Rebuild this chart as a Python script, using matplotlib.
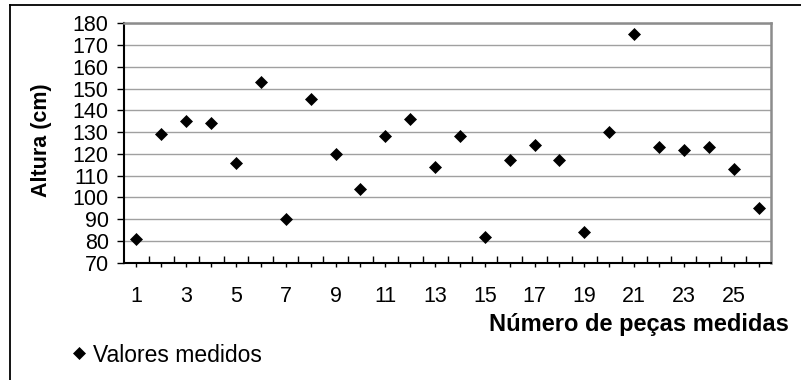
import numpy as np
import matplotlib
matplotlib.use("Agg")
import matplotlib.pyplot as plt
from matplotlib.lines import Line2D
from matplotlib.ticker import FixedLocator

# data
pecas = list(range(1, 27))
alturas = [81, 129, 135, 134, 116, 153, 90, 145, 120, 104, 128, 136, 114,
           128, 82, 117, 124, 117, 84, 130, 175, 123, 122, 123, 113, 95]
yticks = list(range(70, 181, 10))
xlabels = [str(p) if p % 2 == 1 else "" for p in pecas]

plt.rcParams['font.family'] = ['Liberation Sans', 'DejaVu Sans']

fig = plt.figure(figsize=(8.01, 3.80), dpi=100)
ax = fig.add_axes([124 / 801, 1 - 262.7 / 380, (771 - 124) / 801, (262.7 - 23.3) / 380])

ax.plot(pecas, alturas, linestyle='none', marker='D', ms=6.2, color='black',
        mew=0.5, label='Valores medidos', zorder=3, clip_on=False)

ax.set_xlim(0.5, len(pecas) + 0.5)
ax.set_ylim(70, 180)
ax.yaxis.set_major_locator(FixedLocator(yticks))
ax.xaxis.set_major_locator(FixedLocator(pecas))
ax.set_xticklabels(xlabels)
ax.xaxis.set_minor_locator(FixedLocator(np.arange(1.5, len(pecas), 1.0)))

ax.grid(axis='y', color='#a0a0a0', lw=1.0)
ax.set_axisbelow(True)

for s in ['left', 'bottom']:
    ax.spines[s].set_color('black')
    ax.spines[s].set_linewidth(1.5)
for s in ['top', 'right']:
    ax.spines[s].set_color('#8c8c8c')
    ax.spines[s].set_linewidth(1.8)

ax.tick_params(axis='y', which='major', direction='out', length=5, width=1.0,
               pad=6, labelsize=15.5, color='black')
ax.tick_params(axis='x', which='major', direction='out', length=3, width=1.0,
               pad=14, labelsize=15.5, color='black')
ax.tick_params(axis='x', which='minor', direction='in', length=4.7, width=1.0,
               color='black')

fig.text(42 / 801, 1 - 140 / 380, 'Altura (cm)', rotation=90, ha='center',
         va='center', fontsize=15.5, fontweight='bold')
fig.text(789 / 801, 1 - 331 / 380, 'Número de peças medidas', ha='right',
         va='baseline', fontsize=17, fontweight='bold')

fig.legend(loc='center left', bbox_to_anchor=(72.4 / 801, 1 - 355 / 380),
           frameon=False, fontsize=16.5, handlelength=0.6, handletextpad=0.3,
           borderpad=0, borderaxespad=0, markerscale=1.0)

# outer frame of the original chart (only top and left edges are visible)
fig.add_artist(Line2D([10 / 801, 1.0], [1 - 4.5 / 380, 1 - 4.5 / 380],
                      transform=fig.transFigure, color='black', lw=1.3))
fig.add_artist(Line2D([10 / 801, 10 / 801], [0.0, 1 - 4.5 / 380],
                      transform=fig.transFigure, color='black', lw=1.3))

fig.savefig('out.png', dpi=100)
